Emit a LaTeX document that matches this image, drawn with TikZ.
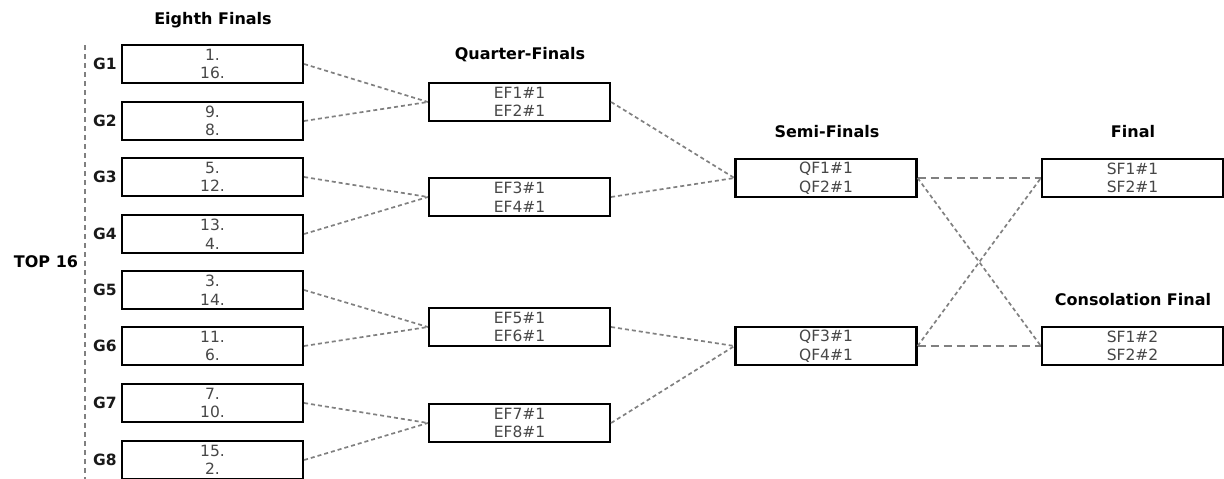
\documentclass[tikz,border=0pt]{standalone}
\usepackage{fontspec}
\setmainfont{DejaVu Sans}
\begin{document}
\begin{tikzpicture}[x=1pt,y=-1pt,
  slot/.style={draw=black,line width=2.2pt,fill=white,minimum width=181pt,minimum height=38pt,
    inner sep=0pt,align=center,text=black!72,font=\fontsize{15.5}{18.5}\selectfont},
  title/.style={font=\bfseries\fontsize{16}{18}\selectfont,text=black},
  glabel/.style={font=\bfseries\fontsize{15.5}{18}\selectfont,text=black!90},
  link/.style={draw=black!50,line width=1.7pt,dash pattern=on 4pt off 3pt},
  longlink/.style={draw=black!50,line width=1.7pt,dash pattern=on 8pt off 5pt}]
\useasboundingbox (0,0) rectangle (1224,479);

% column titles
\node[title] (tEF) at (213,20) {Eighth Finals};
\node[title] (tQF) at (520,55) {Quarter-Finals};
\node[title] (tSF) at (827,132) {Semi-Finals};
\node[title] (tF)  at (1133,132) {Final};
\node[title] (tCF) at (1133,300) {Consolation Final};

% seeding bar
\coordinate (barTop) at (85,45);
\coordinate (barBot) at (85,479);
\draw[draw=black!50,line width=1.4pt,dash pattern=on 5pt off 4pt] (barTop) -- (barBot);
\node[title] (top16) at (46,262) {TOP 16};

% eighth finals
\foreach \i/\y/\a/\b in {1/64/1./16., 2/121/9./8., 3/177/5./12., 4/234/13./4.,
                         5/290/3./14., 6/346/11./6., 7/403/7./10., 8/460/15./2.}{
  \node[slot] (g\i) at (212.5,\y) {\a\\\b};
  \node[glabel] (lg\i) at (105,\y) {G\i};
}

% quarter finals
\node[slot] (q1) at (519.5,102) {EF1\#1\\EF2\#1};
\node[slot] (q2) at (519.5,197) {EF3\#1\\EF4\#1};
\node[slot] (q3) at (519.5,327) {EF5\#1\\EF6\#1};
\node[slot] (q4) at (519.5,423) {EF7\#1\\EF8\#1};

% semi finals
\node[slot] (s1) at (826,178) {QF1\#1\\QF2\#1};
\node[slot] (s2) at (826,346) {QF3\#1\\QF4\#1};

% finals
\node[slot] (f1) at (1132.5,178) {SF1\#1\\SF2\#1};
\node[slot] (f2) at (1132.5,346) {SF1\#2\\SF2\#2};

% connectors
\draw[link] (g1.east) -- (q1.west);
\draw[link] (g2.east) -- (q1.west);
\draw[link] (g3.east) -- (q2.west);
\draw[link] (g4.east) -- (q2.west);
\draw[link] (g5.east) -- (q3.west);
\draw[link] (g6.east) -- (q3.west);
\draw[link] (g7.east) -- (q4.west);
\draw[link] (g8.east) -- (q4.west);
\draw[link] (q1.east) -- (s1.west);
\draw[link] (q2.east) -- (s1.west);
\draw[link] (q3.east) -- (s2.west);
\draw[link] (q4.east) -- (s2.west);
\draw[longlink] (s1.east) -- (f1.west);
\draw[longlink] (s2.east) -- (f2.west);
\draw[link] (s1.east) -- (f2.west);
\draw[link] (s2.east) -- (f1.west);
\end{tikzpicture}
\end{document}
